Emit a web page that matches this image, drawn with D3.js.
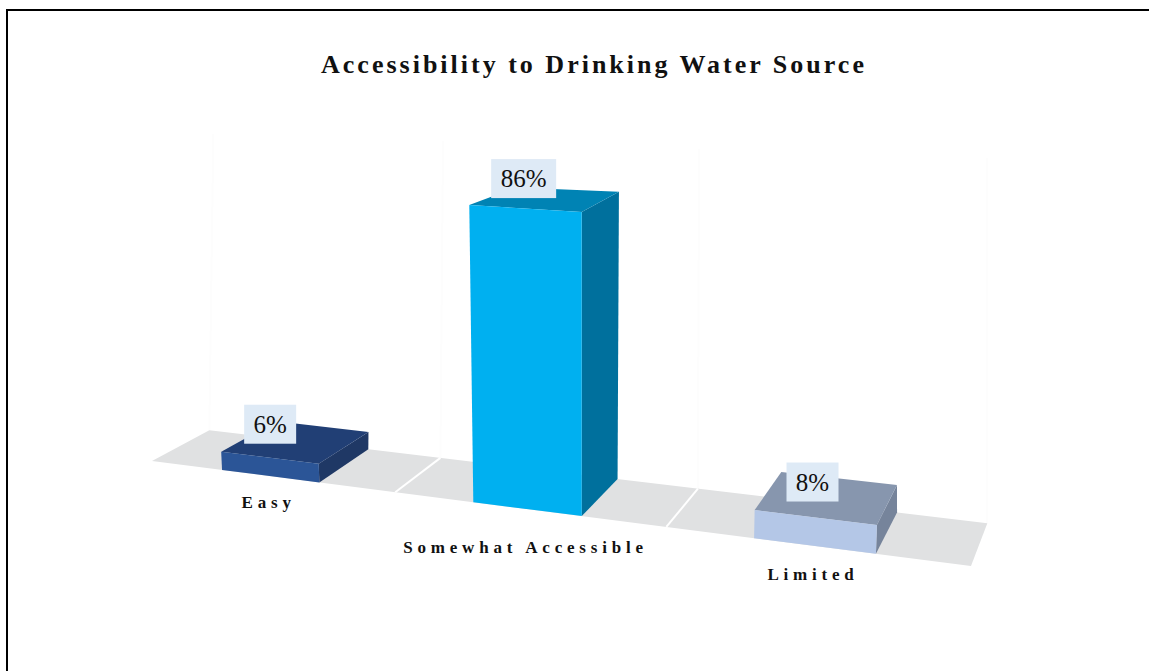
<!DOCTYPE html>
<html>
<head>
<meta charset="utf-8">
<script src="https://d3js.org/d3.v7.min.js"></script>
<style>
  html, body { margin: 0; padding: 0; background: #fff; }
  svg { display: block; }
</style>
</head>
<body>
<div id="maincontent"></div>
<script>
// data
var title = "Accessibility to Drinking Water Source";
var categories = ["Easy", "Somewhat Accessible", "Limited"];
var shares = [5.6, 86.4, 7.7];
var shownLabels = ["6%", "86%", "8%"];

var frontColors = ["#2b5597", "#00b0f0", "#b4c7e7"];
var topColors = ["#213f75", "#0083b4", "#8796ae"];
var sideColors = ["#1f3865", "#00709d", "#76849b"];

var w = 1149;
var h = 671;

var svg = d3.select("#maincontent")
  .append("svg")
  .attr("width", w)
  .attr("height", h);

// corners of the 3d box as it lands on the page
var floorFL = [152, 461], floorFR = [971, 566], floorBL = [207, 430], floorBR = [985, 523];
var roofFL = [133.6, 141], roofFR = [987.6, 185], roofBL = [211, 134], roofBR = [984.4, 158];

var band = d3.scaleBand().domain(categories).range([-0.004, 0.996]).paddingInner(0.6).paddingOuter(0.3);
// categories get wider towards the viewer
var across = d3.scaleLinear().domain([0, 1 / 3, 2 / 3, 1]).range([0, 0.297, 0.628, 1]);
var up = d3.scaleLinear().domain([0, 100]).range([0, 1]);

function mix(a, b, t) {
  return [a[0] + (b[0] - a[0]) * t, a[1] + (b[1] - a[1]) * t];
}

// s = position along the categories, d = depth 0..1, v = percent
function project(s, d, v) {
  var u = across(s) + d * 0.003;
  var floor = mix(mix(floorFL, floorFR, u), mix(floorBL, floorBR, u), d);
  var roof = mix(mix(roofFL, roofFR, u), mix(roofBL, roofBR, u), d);
  return mix(floor, roof, up(v));
}

var line = d3.line();

function face(points, fill) {
  svg.append("path")
    .attr("d", line(points) + "Z")
    .attr("fill", fill);
}

// faint back wall lines
[0, 1 / 3, 2 / 3, 1].forEach(function(s) {
  svg.append("path")
    .attr("d", line([project(s, 1, 0), project(s, 1, 100)]))
    .attr("stroke", "#fdfdfd")
    .attr("stroke-width", 2)
    .attr("fill", "none");
});

// floor
face([project(0, 0, 0), project(1, 0, 0), project(1, 1, 0), project(0, 1, 0)], "#e0e1e2");

[1 / 3, 2 / 3].forEach(function(s) {
  svg.append("path")
    .attr("d", line([project(s, 0, 0), project(s, 1, 0)]))
    .attr("stroke", "#fff")
    .attr("stroke-width", 2)
    .attr("fill", "none");
});

// bars
categories.forEach(function(c, i) {
  var a = band(c);
  var b = a + band.bandwidth();
  var v = shares[i];
  face([project(b, 0, 0), project(b, 1, 0), project(b, 1, v), project(b, 0, v)], sideColors[i]);
  face([project(a, 0, v), project(b, 0, v), project(b, 1, v), project(a, 1, v)], topColors[i]);
  face([project(a, 0, 0), project(b, 0, 0), project(b, 0, v), project(a, 0, v)], frontColors[i]);
});

// value labels
var labelShift = [[-26, -18], [-23, -20.5], [-15, -16]];
var labelWidths = [52, 65, 52];

categories.forEach(function(c, i) {
  var p = project(band(c) + band.bandwidth() / 2, 0.5, shares[i]);
  var cx = p[0] + labelShift[i][0];
  var cy = p[1] + labelShift[i][1];
  svg.append("rect")
    .attr("x", cx - labelWidths[i] / 2)
    .attr("y", cy - 19.5)
    .attr("width", labelWidths[i])
    .attr("height", 39)
    .attr("fill", "#deeaf6");
  svg.append("text")
    .attr("x", cx)
    .attr("y", cy + 8.5)
    .attr("text-anchor", "middle")
    .attr("font-family", "Liberation Serif")
    .attr("font-size", "25px")
    .attr("fill", "#111")
    .text(shownLabels[i]);
});

// category labels
var labelDrop = [31.5, 43.5, 34];

categories.forEach(function(c, i) {
  var p = project(band(c) + band.bandwidth() / 2, 0, 0);
  svg.append("text")
    .attr("x", p[0] - 2)
    .attr("y", p[1] + labelDrop[i])
    .attr("text-anchor", "middle")
    .attr("font-family", "Liberation Serif")
    .attr("font-weight", "bold")
    .attr("font-size", "17px")
    .attr("letter-spacing", "4.8px")
    .attr("fill", "#111")
    .text(c);
});

svg.append("text")
  .attr("x", 594)
  .attr("y", 73)
  .attr("text-anchor", "middle")
  .attr("font-family", "Liberation Serif")
  .attr("font-weight", "bold")
  .attr("font-size", "26px")
  .attr("letter-spacing", "3px")
  .attr("fill", "#111")
  .text(title);

// page frame, only top and left show
svg.append("path")
  .attr("d", "M7,671V10H1149")
  .attr("stroke", "#000")
  .attr("stroke-width", 2)
  .attr("fill", "none");
</script>
</body>
</html>
